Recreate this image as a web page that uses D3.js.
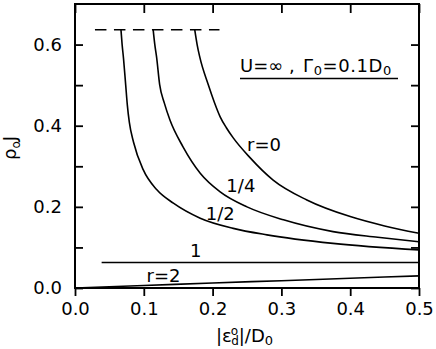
<!DOCTYPE html>
<html><head><meta charset="utf-8">
<script src="https://cdn.jsdelivr.net/npm/d3@7"></script>
<style>
html,body{margin:0;padding:0;background:#fff;}
svg text{font-family:"DejaVu Sans",sans-serif;fill:#000;}
</style></head>
<body><svg id="c" width="436" height="349"></svg>
<script>
// ---- data ----
const xTicks = [0.0, 0.1, 0.2, 0.3, 0.4, 0.5];
const xTickLabels = ["0.0", "0.1", "0.2", "0.3", "0.4", "0.5"];
const yTicks = [0.0, 0.1, 0.2, 0.3, 0.4, 0.5, 0.6];
const yTickLabels = ["0.0", "", "0.2", "", "0.4", "", "0.6"];

const xR0 = [0.174,0.1775,0.1814,0.1935,0.2025,0.211,0.220,0.230,0.254,0.288,0.337,0.400,0.450,0.500];
const yR0 = [0.637,0.600,0.569,0.502,0.458,0.422,0.395,0.370,0.322,0.266,0.217,0.176,0.153,0.135];

const xR14 = [0.1136,0.116,0.1186,0.123,0.130,0.138,0.157,0.182,0.211,0.250,0.303,0.375,0.440,0.500];
const yR14 = [0.637,0.600,0.569,0.502,0.455,0.414,0.348,0.283,0.237,0.200,0.168,0.139,0.125,0.114];

const xR12 = [0.0668,0.0685,0.0705,0.0737,0.0760,0.0790,0.0850,0.0993,0.119,0.143,0.182,0.230,0.279,0.375,0.500];
const yR12 = [0.637,0.600,0.566,0.500,0.452,0.408,0.360,0.291,0.242,0.209,0.172,0.147,0.131,0.110,0.094];

const xR1 = [0.0387, 0.5];
const yR1 = [0.063, 0.063];

const xR2 = [0.0, 0.1, 0.2, 0.3, 0.4, 0.5];
const yR2 = [0.0, 0.006, 0.0125, 0.018, 0.024, 0.030];

const xDash = [0.029, 0.21];
const yDash = [0.6366, 0.6366];

const curveLabels = [
  {t:"r=0", x:0.250, y:0.337},
  {t:"1/4", x:0.220, y:0.237},
  {t:"1/2", x:0.190, y:0.167},
  {t:"1",   x:0.167, y:0.076},
  {t:"r=2", x:0.104, y:0.014}
];

// ---- chart ----
const svg = d3.select("#c");
const x = d3.scaleLinear().domain([0, 0.5]).range([75, 419]);
const y = d3.scaleLinear().domain([0, 0.7]).range([288, 4]);

const line = d3.line().x(d => x(d[0])).y(d => y(d[1])).curve(d3.curveMonotoneX);
const zip = (a, b) => a.map((v, i) => [v, b[i]]);

const series = [[xR0,yR0],[xR14,yR14],[xR12,yR12],[xR1,yR1],[xR2,yR2]];
series.forEach(([a,b]) => {
  svg.append("path").attr("d", line(zip(a,b)))
    .attr("fill","none").attr("stroke","#000").attr("stroke-width",1.6);
});
svg.append("path").attr("d", d3.line().x(d=>x(d[0])).y(d=>y(d[1]))(zip(xDash,yDash)))
  .attr("fill","none").attr("stroke","#000").attr("stroke-width",1.6)
  .attr("stroke-dasharray","11.5,7.5");

// axes
const fs = "18px";
const gB = svg.append("g").attr("transform","translate(0,288)")
  .call(d3.axisBottom(x).tickValues(xTicks).tickFormat((d,i)=>xTickLabels[i]).tickSize(8).tickSizeOuter(0).tickPadding(6));
const gT = svg.append("g").attr("transform","translate(0,4)")
  .call(d3.axisBottom(x).tickValues(xTicks).tickFormat("").tickSize(9).tickSizeOuter(0));
const gL = svg.append("g").attr("transform","translate(75,0)")
  .call(d3.axisRight(y).tickValues(yTicks).tickFormat("").tickSize(8).tickSizeOuter(0));
const gR = svg.append("g").attr("transform","translate(419,0)")
  .call(d3.axisLeft(y).tickValues(yTicks).tickFormat("").tickSize(8).tickSizeOuter(0));
[gB,gT,gL,gR].forEach(g => {
  g.select(".domain").remove();
  g.selectAll("line").attr("stroke","#000").attr("stroke-width",1.8);
});
gB.selectAll("text").attr("font-size",fs).attr("font-family","DejaVu Sans, sans-serif").attr("fill","#000");

// y labels
svg.append("g").selectAll("text").data(yTicks).join("text")
  .attr("x", 62).attr("y", d => y(d)).attr("dy","0.36em")
  .attr("text-anchor","end").attr("font-size",fs)
  .text((d,i)=>yTickLabels[i]);

// frame
svg.append("rect").attr("x",x(0)).attr("y",y(0.7)).attr("width",x(0.5)-x(0)).attr("height",y(0)-y(0.7))
  .attr("fill","none").attr("stroke","#000").attr("stroke-width",2);

// curve labels
svg.append("g").selectAll("text").data(curveLabels).join("text")
  .attr("x", d=>x(d.x)).attr("y", d=>y(d.y)).attr("font-size","18px").text(d=>d.t);

// annotation
svg.append("text").attr("x",240).attr("y",72).attr("font-size","18px").text("U=∞ ,");
const ann = svg.append("text").attr("x",303).attr("y",72).attr("font-size","18px").attr("letter-spacing","0.6");
ann.append("tspan").text("Γ");
ann.append("tspan").attr("font-size","13px").attr("dy","3").text("0");
ann.append("tspan").attr("dy","-3").text("=0.1D");
ann.append("tspan").attr("font-size","13px").attr("dy","3").text("0");
svg.append("line").attr("x1",240).attr("x2",398).attr("y1",78.5).attr("y2",78.5)
  .attr("stroke","#000").attr("stroke-width",1.6);

// x axis label
const xl = svg.append("text").attr("x",216).attr("y",342).attr("font-size","18px");
xl.append("tspan").text("|ε");
xl.append("tspan").attr("font-size","12px").attr("dy","-7").attr("dx","-1").text("o");
xl.append("tspan").attr("font-size","12px").attr("dy","10").attr("dx","-7").text("d");
xl.append("tspan").attr("dy","-3").text("|/D");
xl.append("tspan").attr("font-size","13px").attr("dy","3").text("0");

// y axis label
const yl = svg.append("text").attr("transform","translate(16,148) rotate(-90)").attr("text-anchor","middle").attr("font-size","18px");
yl.append("tspan").text("ρ");
yl.append("tspan").attr("font-size","12px").attr("dy","4").text("o");
yl.append("tspan").attr("dy","-4").text("J");
</script></body></html>
